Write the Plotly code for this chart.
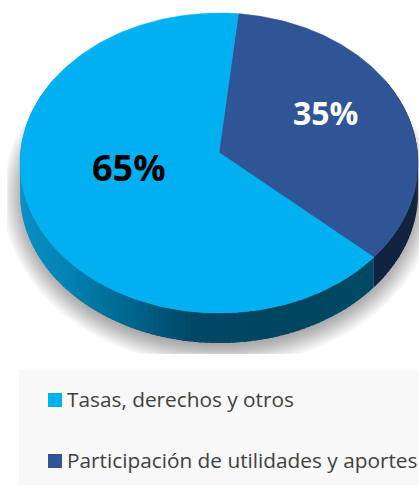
import numpy as np
import plotly.graph_objects as go

categories = ["Participación de utilidades y aportes", "Tasas, derechos y otros"]
values = [35, 65]
colors = ["#2F5597", "#00B0F0"]
legend_order = [1, 0]

W, H = 419, 485
CX, CY, RX, RY, K, DEPTH = 219, 163, 199, 150, -0.07, 30
START = 6.0


def proj(theta_deg, r=1.0):
    t = np.radians(theta_deg)
    s = -r * np.cos(t)
    u = r * np.sin(t)
    d = 1 + K * s
    return CX + RX * u * np.sqrt(1 - K * K) / d, CY + RY * (s + K) / d


def lerp_hex(stops, x):
    xs = [p[0] for p in stops]
    rgb = [np.interp(x, xs, [int(p[1][i:i + 2], 16) for p in stops]) for i in (1, 3, 5)]
    return "#%02x%02x%02x" % tuple(int(round(c)) for c in rgb)


blue_side = [(20, "#0A90C4"), (60, "#0385B5"), (110, "#016F98"), (150, "#005A80"), (190, "#004867"),
             (300, "#00455F"), (375, "#004A66")]

fig = go.Figure()

# blurred drop shadow
for d in np.arange(24, 0, -1.0):
    t = np.linspace(0, 360, 181)
    sx = CX + (RX + d - 6) * np.sin(np.radians(t))
    sy = CY + 33 - (RY + d - 3) * np.cos(np.radians(t))
    fig.add_trace(go.Scatter(x=np.clip(sx, 7, W), y=np.clip(sy, 0, 354), mode="lines", fill="toself",
                             fillcolor="rgba(0,0,0,0.016)", line=dict(width=0),
                             hoverinfo="skip", showlegend=False))

fracs = np.array(values) / sum(values)
edges = START + np.concatenate([[0], np.cumsum(fracs)]) * 360

# extruded side, from the slice angles; each strip overlaps the next to avoid seams
steps = np.arange(60, 300.01, 1.5)
for a, b in zip(steps[:-1], steps[1:]):
    for lo, hi, idx in [(edges[0], edges[1], 0), (edges[1], edges[2], 1)]:
        p, q = max(a, lo), min(b + 1.0, hi)
        if p >= q or a >= hi or b <= lo:
            continue
        arc = np.linspace(p, q, 5)
        x, y = proj(arc)
        xs = np.concatenate([x, x[::-1]])
        ys = np.concatenate([y, y[::-1] + DEPTH])
        c = "#12233F" if idx == 0 else lerp_hex(blue_side, float(x.mean()))
        fig.add_trace(go.Scatter(x=xs, y=ys, mode="lines", fill="toself", fillcolor=c,
                                 line=dict(width=0), hoverinfo="skip", showlegend=False))

# top face
for i, (cat, col) in enumerate(zip(categories, colors)):
    arc = np.linspace(edges[i], edges[i + 1], 200)
    x, y = proj(arc)
    ax, ay = proj(0.0, 0.0)
    fig.add_trace(go.Scatter(x=np.concatenate([[ax], x, [ax]]), y=np.concatenate([[ay], y, [ay]]),
                             mode="lines", fill="toself", fillcolor=col, line=dict(color=col, width=0.5),
                             name=cat, hoverinfo="name", showlegend=False))

# legend: square markers with their category text
LEG_X, LEG_Y0, LEG_DY = 55, 400, 61
leg_y = [LEG_Y0 + n * LEG_DY for n in range(len(legend_order))]
fig.add_trace(go.Scatter(
    x=[LEG_X] * len(legend_order), y=leg_y, mode="markers",
    marker=dict(symbol="square", size=14, color=[colors[i] for i in legend_order]),
    hoverinfo="skip", showlegend=False))
fig.add_trace(go.Scatter(
    x=[LEG_X + 12] * len(legend_order), y=[v + 1.5 for v in leg_y],
    mode="text", text=[categories[i] for i in legend_order], textposition="middle right",
    textfont=dict(family="Open Sans", size=20.8, color="#404040"), cliponaxis=False,
    hoverinfo="text", showlegend=False))

label_pos = [(63.6, 0.608), (257.5, 0.46)]
label_col = ["#FFFFFF", "#000000"]
label_size = [32, 36]
for v, (th, r), c, fs in zip(values, label_pos, label_col, label_size):
    lx, ly = proj(th, r)
    fig.add_annotation(x=float(lx), y=float(ly), text=f"<b>{v}%</b>", showarrow=False,
                       font=dict(family="Open Sans", size=fs, color=c))

fig.add_shape(type="rect", x0=19, x1=W, y0=370, y1=H, fillcolor="#F8F8F8", line=dict(width=0), layer="below")

fig.update_layout(
    width=W, height=H, margin=dict(l=0, r=0, t=0, b=0), autosize=False,
    paper_bgcolor="#FFFFFF", plot_bgcolor="#FFFFFF",
    xaxis=dict(range=[0, W], visible=False, fixedrange=True),
    yaxis=dict(range=[H, 0], visible=False, fixedrange=True),
    showlegend=False,
)
fig.write_html("out.html", config={"displayModeBar": False},
               post_script="document.body.style.margin='0';document.body.style.overflow='hidden';")
